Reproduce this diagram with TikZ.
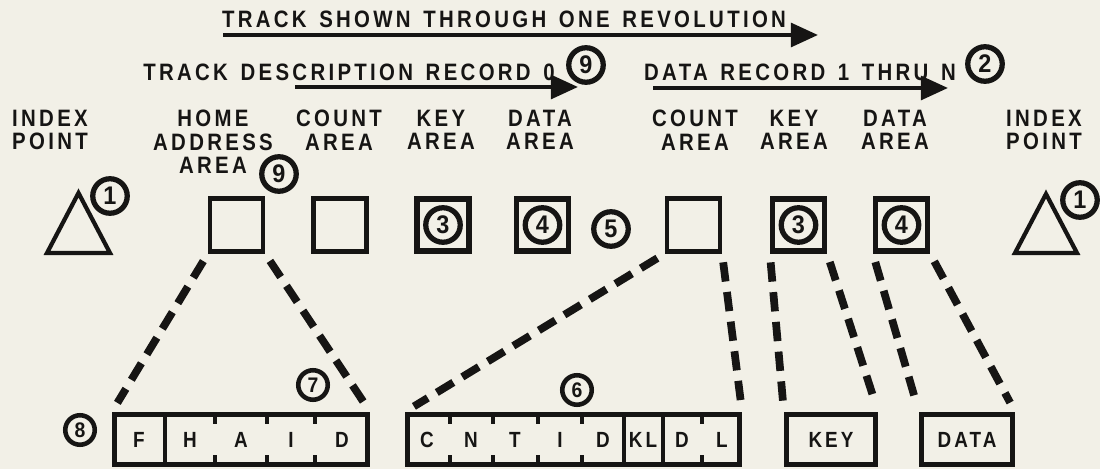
\documentclass[tikz,border=0pt]{standalone}
\usepackage{fontspec}
\setmainfont{Liberation Sans}
\newfontfamily\capfont{Liberation Sans}[FakeStretch=0.86,LetterSpace=14,WordSpace=1.4]
\newfontfamily\digfont{Liberation Sans}[FakeStretch=0.92]
\usetikzlibrary{positioning,calc,arrows.meta}
\definecolor{PaperTone}{RGB}{242,240,231}
\definecolor{InkBlack}{RGB}{22,21,20}
\tikzset{
  sq/.style={draw=InkBlack,line width=2.4pt,minimum size=1.06cm,inner sep=0pt},
  sqk/.style={sq,line width=3pt,minimum size=1.04cm},
  num/.style={circle,draw=InkBlack,line width=3pt,minimum size=0.69cm,inner sep=0pt,
    text=InkBlack,font=\digfont\bfseries\fontsize{14.5}{14.5}\selectfont},
  numsm/.style={num,line width=2.6pt,minimum size=0.59cm,font=\digfont\bfseries\fontsize{12}{12}\selectfont},
  lbl/.style={align=center,inner sep=0pt,anchor=north,text=InkBlack,
    font=\capfont\bfseries\fontsize{13.5}{13.2}\selectfont},
  hd/.style={inner sep=0pt,text=InkBlack,font=\capfont\bfseries\fontsize{13.5}{13.2}\selectfont},
  trk/.style={draw=InkBlack,line width=2.4pt,-{Triangle[length=15.5pt,width=13.5pt]}},
  link/.style={draw=InkBlack,line width=4.4pt,dash pattern=on 11pt off 6pt,shorten <=5pt,shorten >=6pt},
  tri/.style={draw=InkBlack,line width=2.4pt,line join=miter},
  fld/.style={draw=InkBlack,line width=2.7pt,inner sep=0pt,minimum height=1.01cm,
    text=InkBlack,font=\capfont\bfseries\fontsize{12.5}{12.5}\selectfont},
  cell/.style={inner sep=0pt,text=InkBlack,font=\capfont\bfseries\fontsize{12.5}{12.5}\selectfont},
  sep/.style={draw=InkBlack,line width=2.1pt},
}
\begin{document}
\begin{tikzpicture}[x=0.02cm,y=-0.02cm]
\fill[PaperTone] (0,0) rectangle (1100,469);
\useasboundingbox (0,0) rectangle (1100,469);
\node[hd] (rev) at (504,19) {TRACK SHOWN THROUGH ONE REVOLUTION};
\node[hd] (tdr) at (349,72) {TRACK DESCRIPTION RECORD 0};
\node[hd] (drn) at (800,72) {DATA RECORD 1 THRU N};
\node[num] (n9a) at (586,65) {9};
\node[num] (n2) at (985,64) {2};
\coordinate (r1s) at (223,35);
\coordinate (r1e) at (818,35);
\coordinate (r2s) at (295,87);
\coordinate (r2e) at (578,87);
\coordinate (r3s) at (653,88);
\coordinate (r3e) at (948,88);
\draw[trk] (r1s) -- (r1e);
\draw[trk] (r2s) -- (r2e);
\draw[trk] (r3s) -- (r3e);
\node[lbl] (ipl) at (50,110) {INDEX\\POINT};
\node[lbl] (hal) at (213,110) {HOME\\ADDRESS\\AREA};
\node[num] (n9b) at (279,174) {9};
\node[lbl] (ca1) at (339,110) {COUNT\\AREA};
\node[lbl] (ka1) at (441,110) {KEY\\AREA};
\node[lbl] (da1) at (540,110) {DATA\\AREA};
\node[lbl] (ca2) at (695,110) {COUNT\\AREA};
\node[lbl] (ka2) at (794,110) {KEY\\AREA};
\node[lbl] (da2) at (895,110) {DATA\\AREA};
\node[lbl] (ipr) at (1044,110) {INDEX\\POINT};
\coordinate (tpl) at (78.5,193);
\coordinate (tpr) at (1046,194);
\draw[tri] (tpl) -- ++(31.5,60) -- ++(-63,0) -- cycle;
\draw[tri] (tpr) -- ++(31,59) -- ++(-62,0) -- cycle;
\node[num] (n1a) at (110,196) {1};
\node[num] (n1b) at (1080,200) {1};
\node[sq] (ha) at (236.5,225) {};
\node[sq] (ct1) at (340,225) {};
\node[sqk] (ky1) at (443,225) {};
\node[sqk] (dt1) at (542.5,225) {};
\node[sq] (ct2) at (693.5,225) {};
\node[sqk] (ky2) at (798.5,225) {};
\node[sqk] (dt2) at (901.5,225) {};
\node[num] (n3a) at (ky1) {3};
\node[num] (n4a) at (dt1) {4};
\node[num] (n3b) at (ky2) {3};
\node[num] (n4b) at (dt2) {4};
\node[num] (n5) at (611,229) {5};
\node[fld,minimum width=5.07cm] (fhaid) at (241,439.5) {};
\node[fld,minimum width=6.65cm] (cntid) at (573.5,439.5) {};
\node[fld,minimum width=1.79cm] (keyf) at (831,439.5) {KEY};
\node[fld,minimum width=1.83cm] (dataf) at (967,439.5) {DATA};
\draw[sep] (165,414) -- (165,465);
\draw[sep] (624,414) -- (624,465);
\draw[sep] (663,414) -- (663,465);
\foreach \x in {215,267,315,450,493,538,582,702} {
  \draw[sep] (\x,414) -- ++(0,10);
  \draw[sep] (\x,465) -- ++(0,-10);
}
\foreach \t/\x [count=\i] in {F/139,H/190,A/241,I/291,D/342}
  \node[cell] (ha\i) at (\x,440) {\t};
\foreach \t/\x [count=\i] in {C/427,N/471,T/515,I/560,D/603,KL/643,D/682,L/722}
  \node[cell] (cn\i) at (\x,440) {\t};
\node[numsm] (n6) at (577,390) {6};
\node[numsm] (n7) at (313,385) {7};
\node[numsm] (n8) at (80,430) {8};
\draw[link] (ha.south west) -- (fhaid.north west);
\draw[link] (ha.south east) -- (fhaid.north east);
\draw[link] (ct2.south west) -- (cntid.north west);
\draw[link] (ct2.south east) -- (cntid.north east);
\draw[link] (ky2.south west) -- (keyf.north west);
\draw[link] (ky2.south east) -- (keyf.north east);
\draw[link] (dt2.south west) -- (dataf.north west);
\draw[link] (dt2.south east) -- (dataf.north east);
\end{tikzpicture}
\end{document}
